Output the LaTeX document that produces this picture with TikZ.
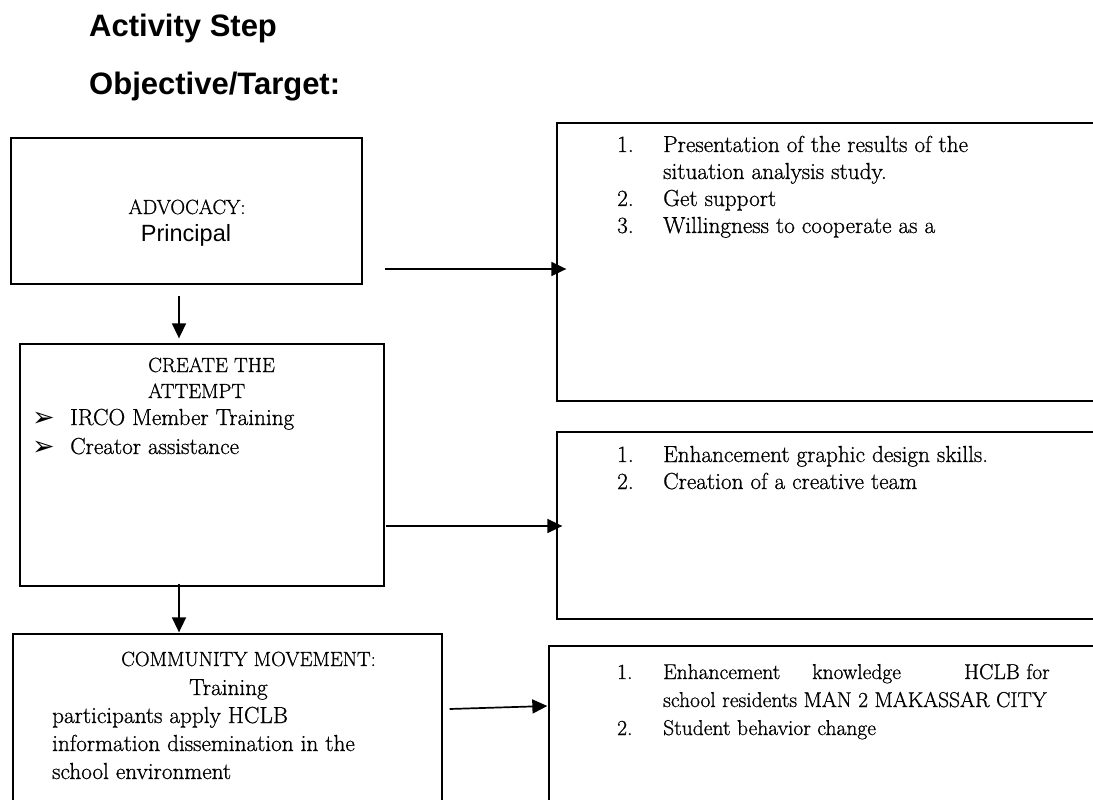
\documentclass[tikz,border=0pt]{standalone}
\usepackage{fontspec}
\usetikzlibrary{arrows.meta}
\setmainfont{Latin Modern Roman}[RawFeature={embolden=0.8}]
\newfontfamily\headfont{Liberation Sans}
\newfontfamily\dingfont{DejaVu Sans}

\begin{document}
\begin{tikzpicture}[x=1pt,y=-1pt,
  box/.style={draw,rectangle,inner sep=0pt,line width=1.3pt},
  txt/.style={anchor=base west,inner sep=0pt,font=\fontsize{23.2}{27}\selectfont},
  caps/.style={txt,font=\fontsize{20.5}{27}\selectfont},
  head/.style={anchor=base west,inner sep=0pt,font=\headfont\bfseries\fontsize{31}{36}\selectfont},
  arrow/.style={line width=1.7pt,-{Triangle[length=15pt,width=14pt]}}]
  \useasboundingbox (0,0) rectangle (1093,800);
  \clip (0,0) rectangle (1093,800);

  \node[head] (step) at (89,37) {Activity Step};
  \node[head] (target) at (89,95) {Objective/Target:};

  % left column
  \node[box,line width=2pt,minimum width=351pt,minimum height=146pt] (advocacy) at (186.5,211) {};
  \node[box,minimum width=364pt,minimum height=242pt] (attempt) at (202,465) {};
  \node[box,minimum width=429pt,minimum height=196pt] (movement) at (227.5,732) {};

  % right column
  \node[box,minimum width=543pt,minimum height=278pt] (goal1) at (828.5,262) {};
  \node[box,minimum width=543pt,minimum height=187pt] (goal2) at (828.5,525.5) {};
  \node[box,minimum width=551pt,minimum height=184pt] (goal3) at (824.5,738) {};

  \node[caps,anchor=base] (adv1) at (187,214) {ADVOCACY:};
  \node[anchor=base,inner sep=0pt,font=\headfont\fontsize{23.5}{27}\selectfont] (adv2) at (186,241) {Principal};

  \node[caps] (att1) at (148,372) {CREATE THE};
  \node[caps] (att2) at (148,398) {ATTEMPT};
  \node[txt,font=\dingfont\fontsize{27}{28}\selectfont] (mark1) at (32,426) {➢};
  \node[txt,font=\dingfont\fontsize{27}{28}\selectfont] (mark2) at (32,455) {➢};
  \node[txt] (att3) at (70,425) {IRCO Member Training};
  \node[txt] (att4) at (70,454) {Creator assistance};

  \node[caps] (mov1) at (121,666) {COMMUNITY MOVEMENT:};
  \node[txt] (mov2) at (189,695) {Training};
  \node[txt] (mov3) at (52,723) {participants apply HCLB};
  \node[txt] (mov4) at (52,751) {information dissemination in the};
  \node[txt] (mov5) at (52,779) {school environment};

  \node[txt] (list1) at (617,152) {\begin{tabular}[t]{@{}p{46pt}@{}l@{}}
    1. & Presentation of the results of the\\
       & situation analysis study.\\
    2. & Get support\\
    3. & Willingness to cooperate as a
  \end{tabular}};
  \node[txt] (list2) at (617,462) {\begin{tabular}[t]{@{}p{46pt}@{}l@{}}
    1. & Enhancement graphic design skills.\\
    2. & Creation of a creative team
  \end{tabular}};
  \node[txt,font=\fontsize{21.5}{28}\selectfont] (list3) at (617,679) {\begin{tabular}[t]{@{}p{46pt}@{}l@{}}
    1. & \makebox[149pt][l]{Enhancement}\makebox[152pt][l]{knowledge}HCLB for\\
       & school residents MAN 2 MAKASSAR CITY\\
    2. & Student behavior change
  \end{tabular}};

\path[arrow]
  ([xshift=-7.5pt,yshift=-11pt]advocacy.south) edge ([xshift=-23pt,yshift=5pt]attempt.north)
  ([xshift=22pt,yshift=-58pt]advocacy.east) edge ([xshift=10pt,yshift=-7pt]goal1.west)
  ([xshift=1pt,yshift=-61pt]attempt.east) edge ([xshift=6pt,yshift=-0.5pt]goal2.west)
  ([xshift=-23pt,yshift=3pt]attempt.south) edge ([xshift=-48.5pt,yshift=1pt]movement.north)
  ([xshift=7pt,yshift=23pt]movement.east) edge ([xshift=-1pt,yshift=32pt]goal3.west)
;
\end{tikzpicture}
\end{document}
